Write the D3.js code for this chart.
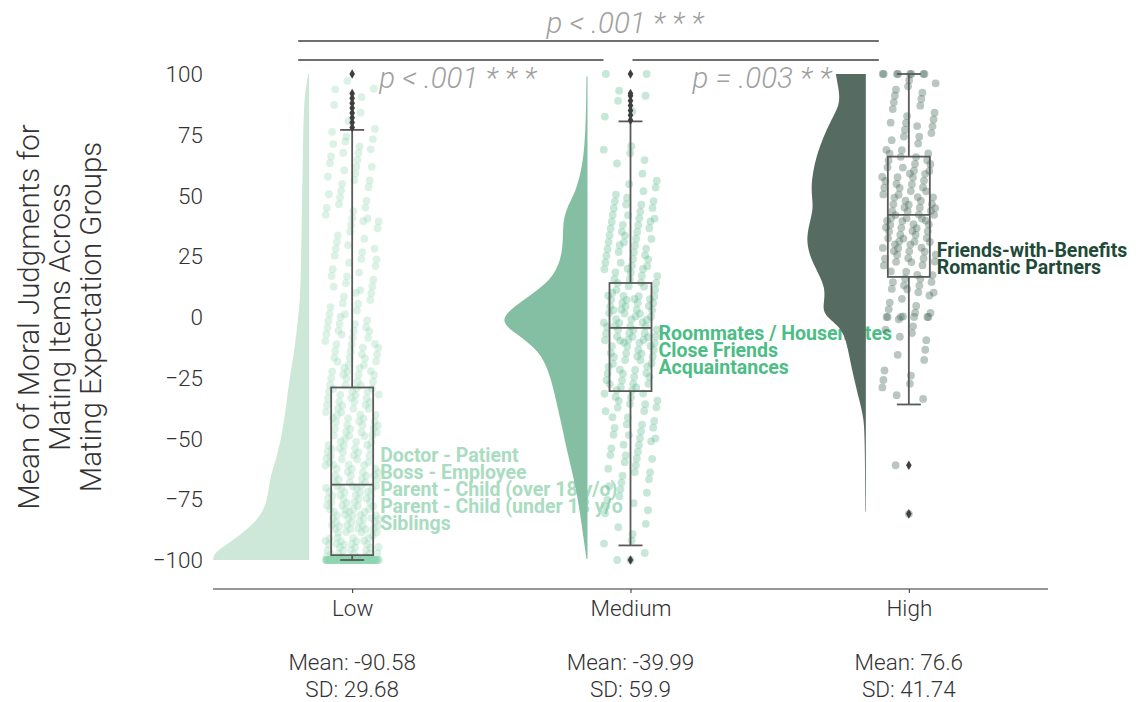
<!DOCTYPE html>
<html>
<head>
<meta charset="utf-8">
<script src="https://cdn.jsdelivr.net/npm/d3@7"></script>
<style>
    html, body { margin: 0; padding: 0; background: #fff; }
    svg text { font-family: Roboto, "Noto Sans", sans-serif; }
</style>
</head>
<body>
<svg id="chart" width="1143" height="702"></svg>
<script>
// ---- data ----
const groups = ["Low", "Medium", "High"];
const meanLabels = ["-90.58", "-39.99", "76.6"];
const sdLabels = ["29.68", "59.9", "41.74"];
const yTicks = [-100, -75, -50, -25, 0, 25, 50, 75, 100];

// box plot statistics per group
const q1 = [-98, -30.5, 16.5];
const medians = [-69, -4.5, 42];
const q3 = [-29, 14, 66];
const whiskerLo = [-100, -94, -36];
const whiskerHi = [77, 80.5, 100];
const lowOutliers = [78, 80, 82, 84, 86, 88, 90, 92, 100];
const mediumOutliers = [-100, 81, 83, 85, 87, 89, 91, 92, 100];
const highOutliers = [-61, -81];

// half-violin profiles: [value, relative density]
const lowViolin = [[100, 0.01], [95, 0.03], [89, 0.05], [75, 0.06], [50, 0.07], [25, 0.08], [7, 0.09], [0, 0.11],
    [-15, 0.15], [-26, 0.2], [-40, 0.24], [-50, 0.28], [-60, 0.34], [-67, 0.4], [-78, 0.42], [-86, 0.57],
    [-93, 0.8], [-97, 0.95], [-100, 0.96]];
const mediumViolin = [[99, 0.01], [67, 0.02], [52, 0.11], [45, 0.21], [38, 0.25], [29, 0.24], [17, 0.31], [8.6, 0.58],
    [3, 0.78], [-2, 0.87], [-7, 0.71], [-14, 0.48], [-23, 0.38], [-35, 0.31], [-46, 0.25], [-56, 0.2],
    [-71, 0.11], [-85, 0.06], [-99.6, 0.01]];
const highViolin = [[100, 0.3], [95.5, 0.28], [88, 0.25], [81, 0.35], [67, 0.5], [52, 0.56], [45, 0.51], [33, 0.61],
    [23, 0.55], [11.6, 0.38], [2.8, 0.45], [-1.4, 0.35], [-5.8, 0.21], [-20, 0.15], [-35, 0.06], [-42, 0.02],
    [-50, 0.01], [-80, 0.005]];

// raw ratings as [from, to, count] ranges (from == to is a pile of equal values)
const lowBins = [[-100, -100, 95], [-99, -90, 30], [-90, -80, 32], [-80, -70, 28], [-70, -60, 24], [-60, -50, 22],
    [-50, -40, 22], [-40, -30, 20], [-30, -20, 18], [-20, -10, 16], [-10, 0, 15], [0, 10, 10], [10, 20, 9],
    [20, 30, 9], [30, 40, 8], [40, 50, 9], [50, 60, 8], [60, 70, 9], [70, 77, 6], [77, 100, 8]];
const mediumBins = [[-100, -100, 2], [-99, -90, 3], [-90, -80, 4], [-80, -70, 7], [-70, -60, 8], [-60, -50, 10],
    [-50, -40, 12], [-40, -30, 14], [-30, -20, 16], [-20, -10, 18], [-10, 0, 24], [0, 10, 24], [10, 20, 16],
    [20, 30, 14], [30, 40, 14], [40, 50, 12], [50, 60, 6], [60, 70, 4], [70, 80, 1], [80, 95, 5], [100, 100, 2]];
const highBins = [[-81, -81, 1], [-61, -61, 1], [-36, -25, 5], [-25, -10, 5], [-10, 0, 6], [0, 0, 6], [0, 10, 8],
    [10, 20, 14], [20, 30, 18], [30, 40, 20], [40, 50, 20], [50, 60, 16], [60, 70, 14], [70, 80, 10],
    [80, 90, 7], [90, 99, 6], [100, 100, 8]];

const lowPairs = ["Doctor - Patient", "Boss - Employee", "Parent - Child (over 18 y/o)", "Parent - Child (under 18 y/o", "Siblings"];
const mediumPairs = ["Roommates / Housemates", "Close Friends", "Acquaintances"];
const highPairs = ["Friends-with-Benefits", "Romantic Partners"];
const pairLabelTop = [-59.5, -9.3, 24.7]; // value at first label baseline

const comparisons = [
    { from: "Low", to: "High", text: "p < .001 * * *" },
    { from: "Low", to: "Medium", text: "p < .001 * * *" },
    { from: "Medium", to: "High", text: "p = .003 * *" }
];

// ---- styles ----
const violinColors = ["#cde7d9", "#84bfa3", "#566b61"];
const pointColors = ["#8fd3ae", "#5fbb8f", "#4a6b5b"];
const pointOpacity = [0.3, 0.35, 0.38];
const labelColors = ["#a9dcc0", "#4dbd86", "#1f4a38"];
const boxColor = "#5a5a5a";
const BOX_HALF = 21;
const VIOLIN_GAP = 43;
const JITTER = 54;

const svg = d3.select("#chart");
svg.append("rect").attr("width", 1143).attr("height", 702).attr("fill", "#fff");

const x = d3.scalePoint().domain(groups).range([213, 1048]).padding(0.5);
const y = d3.scaleLinear().domain([-100, 100]).range([560, 74]);
const w = d3.scaleLinear().domain([0, 1]).range([0, 100]);

const violins = [lowViolin, mediumViolin, highViolin];
const binsByGroup = [lowBins, mediumBins, highBins];
const outliersByGroup = [lowOutliers, mediumOutliers, highOutliers];
const pairsByGroup = [lowPairs, mediumPairs, highPairs];

// pair labels (drawn underneath the clouds, as in the original)
const labelLayer = svg.append("g").attr("class", "pair-labels");
groups.forEach((g, i) => {
    labelLayer.selectAll(`text.lbl-${i}`)
        .data(pairsByGroup[i])
        .join("text")
        .attr("class", `lbl-${i}`)
        .attr("x", x(g) + 28)
        .attr("y", (d, k) => y(pairLabelTop[i]) + k * 17)
        .style("font-size", "19.5px")
        .style("font-weight", 700)
        .style("fill", labelColors[i])
        .text(d => d);
});

// half violins
const area = d3.area()
    .curve(d3.curveBasis)
    .y(d => y(d[0]));

groups.forEach((g, i) => {
    const edge = x(g) - VIOLIN_GAP;
    svg.append("path")
        .datum(violins[i])
        .attr("class", "violin")
        .attr("fill", violinColors[i])
        .attr("d", area.x0(d => edge - w(d[1])).x1(edge));
});

// jittered points (low-discrepancy jitter, no randomness)
const a1 = 0.7548776662, a2 = 0.5698402910;
groups.forEach((g, i) => {
    const pts = [];
    let n = 0;
    binsByGroup[i].forEach(([lo, hi, count]) => {
        for (let k = 0; k < count; k++, n++) {
            const u = (0.5 + a1 * n) % 1;
            const v = (0.5 + a2 * n) % 1;
            pts.push({ value: lo + (hi - lo) * v, dx: (u - 0.5) * JITTER });
        }
    });
    svg.append("g")
        .attr("class", "points")
        .selectAll("circle")
        .data(pts)
        .join("circle")
        .attr("cx", d => x(g) + d.dx)
        .attr("cy", d => y(d.value))
        .attr("r", 3.9)
        .attr("fill", pointColors[i])
        .attr("fill-opacity", pointOpacity[i]);
});

// box plots
groups.forEach((g, i) => {
    const cx = x(g);
    const box = svg.append("g").attr("class", "box")
        .attr("stroke", boxColor).attr("stroke-width", 1.8).attr("fill", "none");
    box.append("rect")
        .attr("x", cx - BOX_HALF).attr("width", BOX_HALF * 2)
        .attr("y", y(q3[i])).attr("height", y(q1[i]) - y(q3[i]));
    box.append("line").attr("x1", cx - BOX_HALF).attr("x2", cx + BOX_HALF)
        .attr("y1", y(medians[i])).attr("y2", y(medians[i]));
    box.append("line").attr("x1", cx).attr("x2", cx).attr("y1", y(q3[i])).attr("y2", y(whiskerHi[i]));
    box.append("line").attr("x1", cx).attr("x2", cx).attr("y1", y(q1[i])).attr("y2", y(whiskerLo[i]));
    [whiskerHi[i], whiskerLo[i]].forEach(v => {
        box.append("line").attr("x1", cx - 12).attr("x2", cx + 12).attr("y1", y(v)).attr("y2", y(v));
    });

    svg.append("g").attr("class", "outliers")
        .selectAll("path")
        .data(outliersByGroup[i])
        .join("path")
        .attr("transform", d => `translate(${cx},${y(d)})`)
        .attr("d", "M0,-4.8L2.8,0L0,4.8L-2.8,0Z")
        .attr("fill", "#3f3f3f");
});

// y axis (labels only, no spine)
svg.append("g").attr("class", "y-ticks")
    .selectAll("text")
    .data(yTicks)
    .join("text")
    .attr("x", 203)
    .attr("y", d => y(d))
    .attr("dy", "0.36em")
    .attr("text-anchor", "end")
    .style("font-size", "22.5px")
    .style("font-weight", 300)
    .style("fill", "#333")
    .text(d => d < 0 ? "\u2212" + Math.abs(d) : d);

const yTitle = ["Mean of Moral Judgments for", "Mating Items Across", "Mating Expectation Groups"];
svg.append("g").attr("class", "y-title")
    .selectAll("text")
    .data(yTitle)
    .join("text")
    .attr("transform", (d, k) => `translate(${39 + k * 31},${y(0)}) rotate(-90)`)
    .attr("text-anchor", "middle")
    .style("font-size", "29.5px")
    .style("font-weight", 300)
    .style("fill", "#333")
    .text(d => d);

// x axis
const xAxis = d3.axisBottom(x).tickSize(4).tickPadding(7);
const gx = svg.append("g").attr("class", "x-axis")
    .attr("transform", `translate(0,${589})`)
    .call(xAxis);
gx.select(".domain").attr("stroke", "#333").attr("stroke-width", 1.2).attr("d", "M213,0H1048");
gx.selectAll(".tick line").attr("stroke", "#333");
gx.selectAll(".tick text")
    .style("font-size", "22.5px")
    .style("font-weight", 300)
    .style("fill", "#333")
    .style("font-family", "Roboto, sans-serif");

const stats = svg.append("g").attr("class", "stats");
groups.forEach((g, i) => {
    const t = stats.append("text")
        .attr("text-anchor", "middle")
        .style("font-size", "22.5px")
        .style("font-weight", 300)
        .style("fill", "#333");
    t.append("tspan").attr("x", x(g)).attr("y", 670).text(`Mean: ${meanLabels[i]}`);
    t.append("tspan").attr("x", x(g)).attr("y", 697).text(`SD: ${sdLabels[i]}`);
});

// significance brackets
const bracketSpec = [
    { y: 41, x1: x("Low") - 54, x2: x("High") - 30, tx: x("Medium") - 84, ty: 33 },
    { y: 60, x1: x("Low") - 54, x2: x("Medium") - 27, tx: x("Low") + 27, ty: 88 },
    { y: 60, x1: x("Medium") + 2, x2: x("High") - 30, tx: x("Medium") + 62, ty: 88 }
];
const brackets = svg.append("g").attr("class", "brackets");
comparisons.forEach((c, i) => {
    const b = bracketSpec[i];
    brackets.append("line")
        .attr("x1", b.x1).attr("x2", b.x2).attr("y1", b.y).attr("y2", b.y)
        .attr("stroke", "#707070").attr("stroke-width", 2);
    brackets.append("text")
        .attr("x", b.tx).attr("y", b.ty)
        .style("font-size", "29.5px")
        .style("font-weight", 300)
        .style("font-style", "italic")
        .style("fill", "#a0a0a0")
        .text(c.text);
});
</script>
</body>
</html>
